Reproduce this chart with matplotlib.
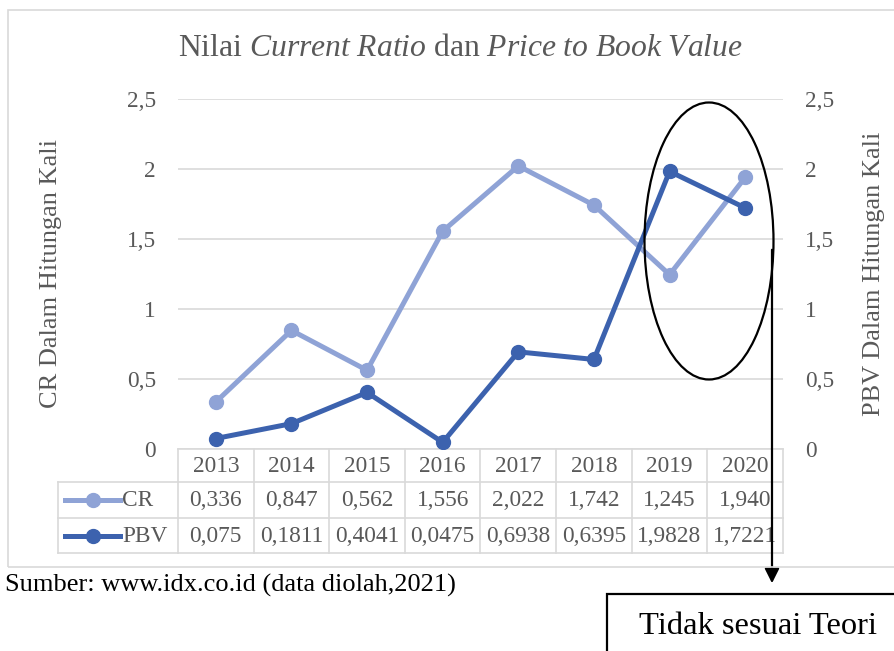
import numpy as np
import matplotlib
matplotlib.use("Agg")
import matplotlib.pyplot as plt
from matplotlib.patches import Ellipse, Rectangle, FancyArrowPatch
from matplotlib.lines import Line2D
from matplotlib.transforms import blended_transform_factory

years = ["2013", "2014", "2015", "2016", "2017", "2018", "2019", "2020"]
cr = [0.336, 0.847, 0.562, 1.556, 2.022, 1.742, 1.245, 1.940]
pbv = [0.075, 0.1811, 0.4041, 0.0475, 0.6938, 0.6395, 1.9828, 1.7221]
cr_labels = ["0,336", "0,847", "0,562", "1,556", "2,022", "1,742", "1,245", "1,940"]
pbv_labels = ["0,075", "0,1811", "0,4041", "0,0475", "0,6938", "0,6395", "1,9828", "1,7221"]
yticks = [0, 0.5, 1, 1.5, 2, 2.5]
ytick_labels = ["0", "0,5", "1", "1,5", "2", "2,5"]

C_CR = "#8FA3D6"
C_PBV = "#3C62AE"
GRAY = "#595959"
GRID = "#D9D9D9"

W, H = 895, 651
plt.rcParams["font.family"] = ["Liberation Serif", "DejaVu Serif"]
plt.rcParams["mathtext.fontset"] = "custom"
plt.rcParams["mathtext.rm"] = "Liberation Serif"
plt.rcParams["mathtext.it"] = "Liberation Serif:italic"

FS = 16.8


def fx(x):
    return x / W


def fy(y):
    return 1 - y / H


fig = plt.figure(figsize=(W / 100, H / 100), dpi=100)

# outer chart frame
fig.patches.append(Rectangle((fx(8), fy(567)), fx(900 - 8), fy(10) - fy(567),
                             transform=fig.transFigure, fill=False,
                             edgecolor=GRID, lw=1.2))

ax = fig.add_axes([fx(178), fy(449), fx(783 - 178), fy(99) - fy(449)])
x = np.arange(len(years))
ax.set_xlim(-0.5, len(years) - 0.5)
ax.set_ylim(0, 2.5)
ax2 = ax.twinx()
ax2.set_ylim(0, 2.5)

for a in (ax, ax2):
    for s in a.spines.values():
        s.set_visible(False)
    a.set_yticks(yticks)
    a.set_yticklabels(ytick_labels)
    a.tick_params(length=0, labelsize=FS, labelcolor=GRAY)
ax.tick_params(axis="y", pad=16)
ax2.tick_params(axis="y", pad=16)
ax.set_xticks([])
ax.grid(axis="y", color=GRID, lw=1.2)
ax.set_axisbelow(True)

ax.plot(x, cr, color=C_CR, lw=3.6, marker="o", ms=10, zorder=3)
ax2.plot(x, pbv, color=C_PBV, lw=3.6, marker="o", ms=10, zorder=3)

ax.set_ylabel("CR Dalam Hitungan Kali", fontsize=19, color=GRAY)
ax.yaxis.set_label_coords((62 - 178) / (783 - 178), 0.5)
ax2.set_ylabel("PBV Dalam Hitungan Kali", fontsize=19, color=GRAY, rotation=90)
ax2.yaxis.set_label_coords((863 - 178) / (783 - 178), 0.5)

fig.text(fx(460), fy(48),
         r"Nilai $\mathit{Current\ Ratio}$ dan $\mathit{Price\ to\ Book\ Value}$",
         ha="center", va="center", fontsize=22.8, color=GRAY)

# data table
tr = blended_transform_factory(ax.transData, fig.transFigure)
rows_y = [449, 482, 518, 553]
n = len(years)
for i in range(n + 1):
    xb = i - 0.5
    ax.add_line(Line2D([xb, xb], [fy(449), fy(553)], transform=tr, color=GRID,
                       lw=1.2, clip_on=False))
for yy in rows_y:
    ax.add_line(Line2D([-0.5, n - 0.5], [fy(yy), fy(yy)], transform=tr, color=GRID,
                       lw=1.2, clip_on=False))
# legend column lines
for yy in rows_y[1:]:
    fig.lines.append(Line2D([fx(58), fx(178)], [fy(yy), fy(yy)], transform=fig.transFigure,
                            color=GRID, lw=1.2))
fig.lines.append(Line2D([fx(58), fx(58)], [fy(482), fy(553)], transform=fig.transFigure,
                        color=GRID, lw=1.2))

for i in range(n):
    ax.text(x[i], fy(466), years[i], transform=tr, ha="center", va="center",
            fontsize=FS, color=GRAY, clip_on=False)
    ax.text(x[i], fy(500), cr_labels[i], transform=tr, ha="center", va="center",
            fontsize=FS, color=GRAY, clip_on=False)
    ax.text(x[i], fy(536), pbv_labels[i], transform=tr, ha="center", va="center",
            fontsize=FS, color=GRAY, clip_on=False)

for yy, col, lab in [(500, C_CR, "CR"), (536, C_PBV, "PBV")]:
    fig.lines.append(Line2D([fx(65), fx(120)], [fy(yy), fy(yy)], transform=fig.transFigure,
                            color=col, lw=3.6))
    fig.lines.append(Line2D([fx(93)], [fy(yy)], transform=fig.transFigure, color=col,
                            marker="o", ms=10, lw=0))
    fig.text(fx(122), fy(yy), lab, ha="left", va="center", fontsize=FS, color=GRAY)

fig.text(fx(5), fy(585), "Sumber: www.idx.co.id (data diolah,2021)", ha="left",
         va="center", fontsize=19, color="black")

# annotation: ellipse, arrow, box
fig.patches.append(Ellipse((fx(709), fy(241)), fx(129), fy(102) - fy(379),
                           transform=fig.transFigure, fill=False, edgecolor="black", lw=1.6))
fig.add_artist(FancyArrowPatch(
    (fx(772), fy(247)), (fx(772), fy(586)), transform=fig.transFigure,
    arrowstyle="-|>", mutation_scale=22, color="black", lw=1.6))
fig.patches.append(Rectangle((fx(607), fy(660)), fx(300), fy(594) - fy(660),
                             transform=fig.transFigure, fill=False, edgecolor="black", lw=1.6))
fig.text(fx(758), fy(626), "Tidak sesuai Teori", ha="center", va="center",
         fontsize=23.4, color="black")

fig.savefig("out.png", dpi=100)
